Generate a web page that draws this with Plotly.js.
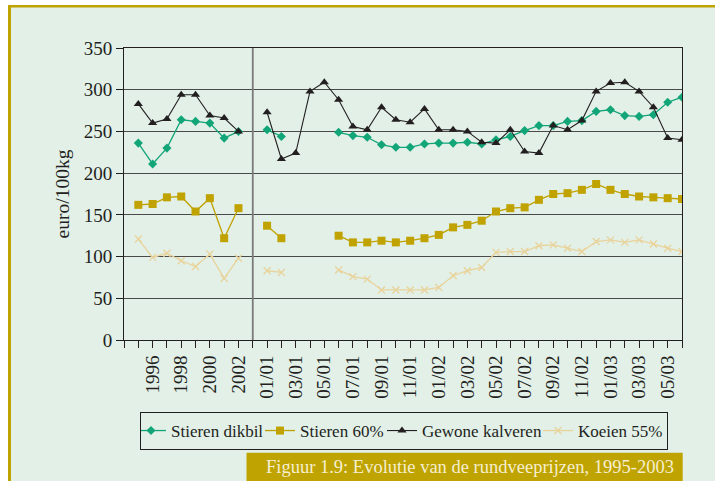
<!DOCTYPE html>
<html>
<head>
<meta charset="utf-8">
<script src="https://cdn.plot.ly/plotly-3.0.1.min.js"></script>
<style>html,body{margin:0;padding:0;background:#fff;overflow:hidden;}#chart{width:715px;height:481px;display:block;}</style>
</head>
<body>
<div id="chart"></div>
<script>
// ---- data ----
const years = ["1995","1996","1997","1998","1999","2000","2001","2002"];
const months = ["01/01","02/01","03/01","04/01","05/01","06/01","07/01","08/01","09/01","10/01","11/01","12/01",
                 "01/02","02/02","03/02","04/02","05/02","06/02","07/02","08/02","09/02","10/02","11/02","12/02",
                 "01/03","02/03","03/03","04/03","05/03","06/03"];

const stierenDikbilJaar = [236, 211, 230, 264, 262, 260, 242, 250];
const stierenDikbilMaand = [252, 244, null, null, null, 249, 245, 243, 234, 231, 231, 235,
                            236, 236, 237, 235, 240, 244, 251, 257, 257, 262, 263, 274,
                            276, 269, 268, 270, 285, 291];

const stieren60Jaar = [162, 163, 171, 172, 154, 170, 122, 158];
const stieren60Maand = [137, 122, null, null, null, 125, 117, 117, 119, 117, 119, 122,
                        126, 135, 138, 143, 154, 158, 159, 168, 175, 176, 180, 187,
                        180, 175, 172, 171, 170, 169];

const kalverenJaar = [283, 260, 265, 294, 294, 269, 266, 250];
const kalverenMaand = [273, 217, 224, 298, 309, 288, 256, 252, 279, 264, 261, 277,
                       252, 252, 250, 237, 236, 252, 226, 224, 257, 252, 263, 298,
                       308, 309, 298, 279, 242, 240];

const koeienJaar = [121, 99, 104, 95, 88, 103, 74, 98];
const koeienMaand = [83, 81, null, null, null, 84, 76, 73, 60, 60, 60, 60,
                     63, 77, 83, 87, 105, 106, 106, 113, 114, 110, 106, 118,
                     120, 117, 120, 115, 110, 106];

const seriesNames = ["Stieren dikbil", "Stieren 60%", "Gewone kalveren", "Koeien 55%"];

// ---- build category axis (blank slot before 1995 and a separator slot between years and months) ----
const START = "_start", GAP = "_gap";
const categories = [START, ...years, GAP, ...months];
const tickText = categories.map((c, i) => (i % 2 === 0 && c !== START && c !== GAP) ? c : "");
function full(jaar, maand) { return [null, ...jaar, null, ...maand]; }

const FONT = "Liberation Serif, Times New Roman, serif";
const INK = "#231f20";
const MINT = "#e2f0e8";
const GOLD = "#bfa300";

const styles = [
  {color: "#12a578", symbol: "diamond", size: 7, lw: 1.3, lgw: 94},
  {color: "#c0a200", symbol: "square", size: 8, lw: 1.3, lgw: 87},
  {color: INK, symbol: "triangle-up", size: 8, lw: 1.1, lgw: 121},
  {color: "#e9d39b", symbol: "x-thin", size: 7, lw: 1.3, lgw: 84}
];
const ys = [
  full(stierenDikbilJaar, stierenDikbilMaand),
  full(stieren60Jaar, stieren60Maand),
  full(kalverenJaar, kalverenMaand),
  full(koeienJaar, koeienMaand)
];

const traces = [];
// separator line at the gap slot
traces.push({
  x: [GAP, GAP], y: [0, 350], mode: "lines", type: "scatter",
  line: {color: "#7a7a7a", width: 1.8}, showlegend: false, hoverinfo: "skip"
});
ys.forEach((y, k) => {
  const s = styles[k];
  const marker = {symbol: s.symbol, size: s.size, color: s.color};
  if (s.symbol === "x-thin") marker.line = {color: s.color, width: 1.3};
  traces.push({
    x: categories, y: y, name: seriesNames[k], type: "scatter", mode: "lines+markers",
    connectgaps: false, line: {color: s.color, width: s.lw}, marker: marker,
    legendwidth: s.lgw
  });
});

// pixel -> paper helpers
const ML = 124, MR = 33, MT = 48, MB = 141, W = 715, H = 481;
const PW = W - ML - MR, PH = H - MT - MB;
const fx = px => (px - ML) / PW;
const fy = py => (H - MB - py) / PH;

const layout = {
  width: W, height: H, autosize: false,
  margin: {l: ML, r: MR, t: MT, b: MB, pad: 0},
  paper_bgcolor: MINT, plot_bgcolor: MINT,
  font: {family: FONT, color: INK, size: 19},
  showlegend: true,
  xaxis: {
    type: "category", categoryorder: "array", categoryarray: categories,
    range: [0, categories.length - 1],
    tickmode: "array", tickvals: categories, ticktext: tickText,
    tickangle: -90, tickfont: {family: FONT, size: 19, color: INK},
    ticks: "outside", ticklen: 7, tickcolor: INK, tickwidth: 1,
    showline: true, linecolor: INK, linewidth: 1, mirror: true,
    showgrid: false, zeroline: false, automargin: false, fixedrange: true
  },
  yaxis: {
    range: [0, 350], dtick: 50, tick0: 0,
    tickfont: {family: FONT, size: 19, color: INK},
    ticks: "outside", ticklen: 7, tickcolor: INK, tickwidth: 1,
    showline: true, linecolor: INK, linewidth: 1, mirror: true,
    showgrid: true, gridcolor: "#4a4a4a", gridwidth: 1, zeroline: false,
    title: {text: "euro/100kg", font: {family: FONT, size: 19.5, color: INK}, standoff: 8},
    automargin: false, fixedrange: true
  },
  legend: {
    orientation: "h", x: fx(140), xanchor: "left", y: fy(412), yanchor: "top",
    bordercolor: INK, borderwidth: 1, bgcolor: "rgba(0,0,0,0)",
    font: {family: FONT, size: 17, color: INK}, itemwidth: 30, indentation: -10,
    tracegroupgap: 0
  },
  shapes: [
    {type: "rect", xref: "paper", yref: "paper", x0: fx(0), x1: fx(8), y0: fy(481), y1: fy(0), fillcolor: "#ffffff", line: {width: 0}},
    {type: "rect", xref: "paper", yref: "paper", x0: fx(0), x1: fx(715), y0: fy(5), y1: fy(0), fillcolor: "#ffffff", line: {width: 0}},
    {type: "rect", xref: "paper", yref: "paper", x0: fx(8), x1: fx(11), y0: fy(481), y1: fy(5), fillcolor: GOLD, line: {width: 0}},
    {type: "rect", xref: "paper", yref: "paper", x0: fx(8), x1: fx(715), y0: fy(7.5), y1: fy(5), fillcolor: GOLD, line: {width: 0}},
    {type: "rect", xref: "paper", yref: "paper", x0: fx(246.5), x1: fx(682.7), y0: fy(481), y1: fy(452.7), fillcolor: GOLD, line: {width: 0}}
  ],
  annotations: [
    {xref: "paper", yref: "paper", x: fx(469.5), y: fy(467), xanchor: "center", yanchor: "middle",
     text: "Figuur 1.9: Evolutie van de rundveeprijzen, 1995-2003", showarrow: false,
     font: {family: FONT, size: 18.5, color: "#f6efcf"}}
  ]
};

Plotly.newPlot("chart", traces, layout, {staticPlot: true, displayModeBar: false});
</script>
</body>
</html>
